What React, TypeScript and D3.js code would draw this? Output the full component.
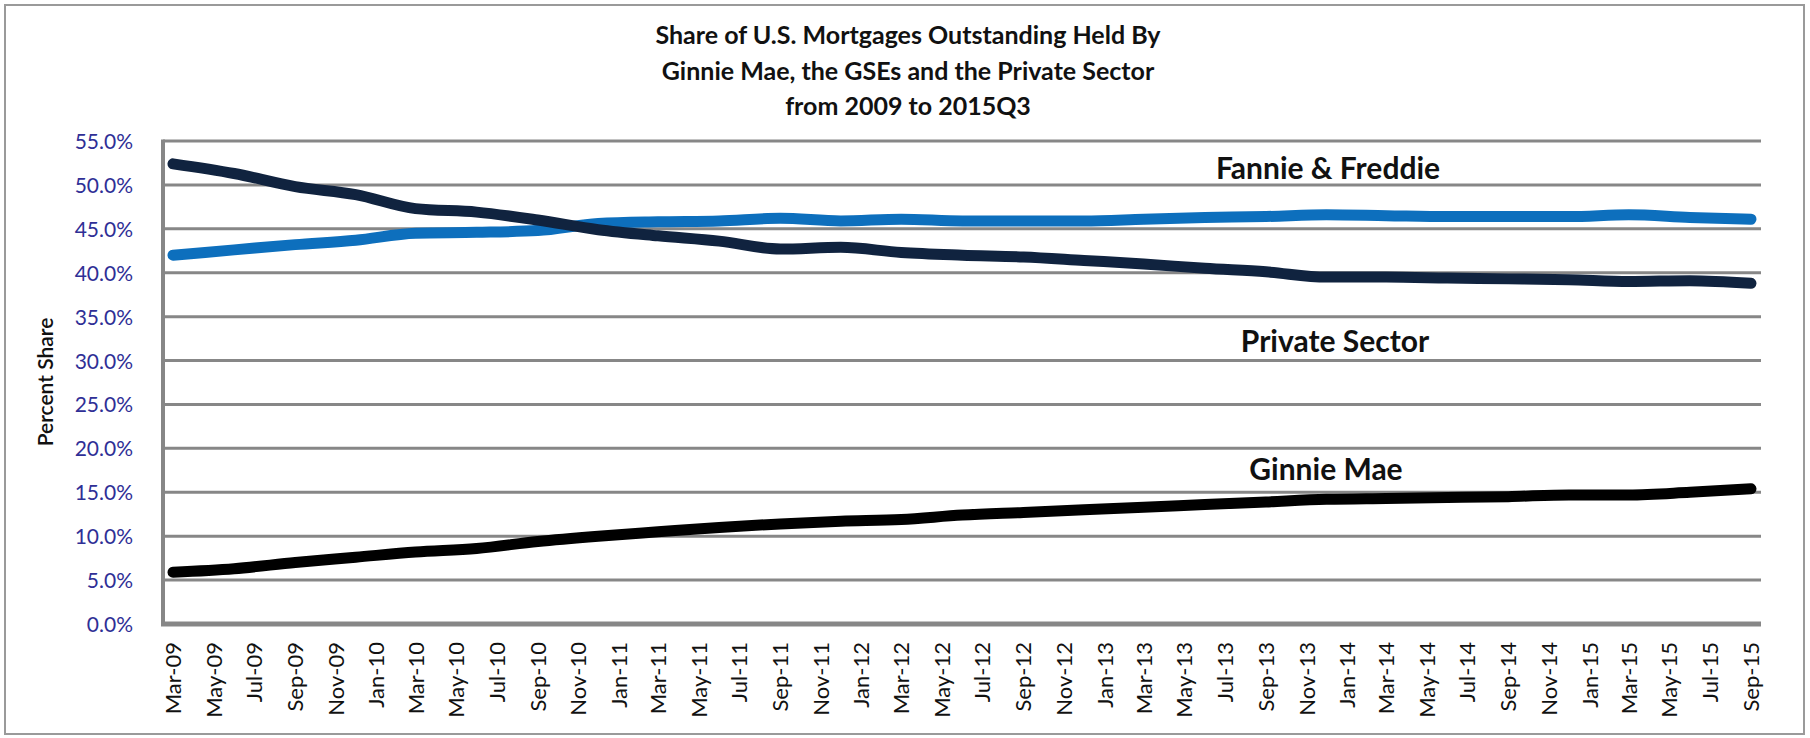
import React from "react";
import * as d3 from "d3";

const quarters = [
  "2009-03","2009-06","2009-09","2009-12","2010-03","2010-06","2010-09","2010-12",
  "2011-03","2011-06","2011-09","2011-12","2012-03","2012-06","2012-09","2012-12",
  "2013-03","2013-06","2013-09","2013-12","2014-03","2014-06","2014-09","2014-12",
  "2015-03","2015-06","2015-09",
];
const privateSector = [52.4,51.3,49.8,48.9,47.3,46.9,46.0,44.9,44.2,43.6,42.7,42.9,42.3,42.0,41.8,41.4,41.0,40.5,40.1,39.5,39.5,39.4,39.3,39.2,39.0,39.1,38.8];
const fannieFreddie = [42.0,42.6,43.2,43.7,44.5,44.6,44.8,45.6,45.8,45.9,46.2,45.9,46.1,45.9,45.9,45.9,46.1,46.3,46.4,46.6,46.5,46.4,46.4,46.4,46.6,46.3,46.1];
const ginnieMae = [5.9,6.3,7.0,7.6,8.2,8.6,9.4,10.0,10.5,11.0,11.4,11.7,11.9,12.4,12.7,13.0,13.3,13.6,13.9,14.2,14.3,14.4,14.5,14.7,14.7,15.0,15.4];
const yTicks = [0,5,10,15,20,25,30,35,40,45,50,55];
const titleLines = [
  "Share of U.S. Mortgages Outstanding Held By",
  "Ginnie Mae, the GSEs and the Private Sector",
  "from 2009 to 2015Q3",
];

const W = 1810, H = 738;
const plotL = 163, plotR = 1761, plotT = 141, plotB = 624;

export default function App() {
  const parse = d3.timeParse("%Y-%m");
  const dates = quarters.map((q) => parse(q) as Date);
  const x = d3.scaleTime().domain([dates[0], dates[dates.length - 1]]).range([173, 1751]);
  const y = d3.scaleLinear().domain([0, 55]).range([plotB, plotT]);
  const tickDates = d3.timeMonth.every(2)!.range(dates[0], d3.timeMonth.offset(dates[dates.length - 1], 1));
  const fmt = d3.timeFormat("%b-%y");
  const line = d3.line<number>().x((_, i) => x(dates[i])).y((v) => y(v)).curve(d3.curveMonotoneX);
  const font = "Lato, 'Open Sans', sans-serif";
  const series = [
    { vals: fannieFreddie, color: "#0d6fbd" },
    { vals: privateSector, color: "#10233f" },
    { vals: ginnieMae, color: "#000000" },
  ];
  return (
    <svg width={W} height={H} style={{ position: "absolute", left: 0, top: 0, background: "#fff" }}>
      <rect x={5} y={5} width={1799} height={729} fill="#fff" stroke="#9a9a9a" strokeWidth={2} />
      {titleLines.map((t, i) => (
        <text key={t} x={908} y={44 + i * 35.5} textAnchor="middle" fontFamily={font} fontWeight={700} fontSize={25} fill="#111">
          {t}
        </text>
      ))}
      {yTicks.map((t) => (
        <g key={t}>
          {t > 0 && <line x1={plotL} x2={plotR} y1={y(t)} y2={y(t)} stroke="#878787" strokeWidth={3} />}
          <text x={133} y={y(t) + 8} textAnchor="end" fontFamily={font} fontSize={21} fill="#2f2f96">
            {t.toFixed(1)}%
          </text>
        </g>
      ))}
      <line x1={plotL} x2={plotL} y1={plotT - 1.5} y2={plotB + 2} stroke="#878787" strokeWidth={4} />
      <line x1={plotL - 2} x2={plotR} y1={plotB} y2={plotB} stroke="#878787" strokeWidth={5} />
      {series.map((s, i) => (
        <path key={i} d={line(s.vals) || ""} fill="none" stroke={s.color} strokeWidth={11} strokeLinecap="round" strokeLinejoin="round" />
      ))}
      {tickDates.map((d) => (
        <text key={+d} transform={`translate(${x(d) + 8},642) rotate(-90)`} textAnchor="end" fontFamily={font} fontSize={22} fill="#111">
          {fmt(d)}
        </text>
      ))}
      <text transform="translate(53,382) rotate(-90)" textAnchor="middle" fontFamily={font} fontWeight={600} fontSize={21} fill="#111">
        Percent Share
      </text>
      <text x={1328} y={179} textAnchor="middle" fontFamily={font} fontWeight={700} fontSize={30} fill="#111">Fannie &amp; Freddie</text>
      <text x={1335} y={352} textAnchor="middle" fontFamily={font} fontWeight={700} fontSize={30} fill="#111">Private Sector</text>
      <text x={1326} y={480} textAnchor="middle" fontFamily={font} fontWeight={700} fontSize={30} fill="#111">Ginnie Mae</text>
    </svg>
  );
}
